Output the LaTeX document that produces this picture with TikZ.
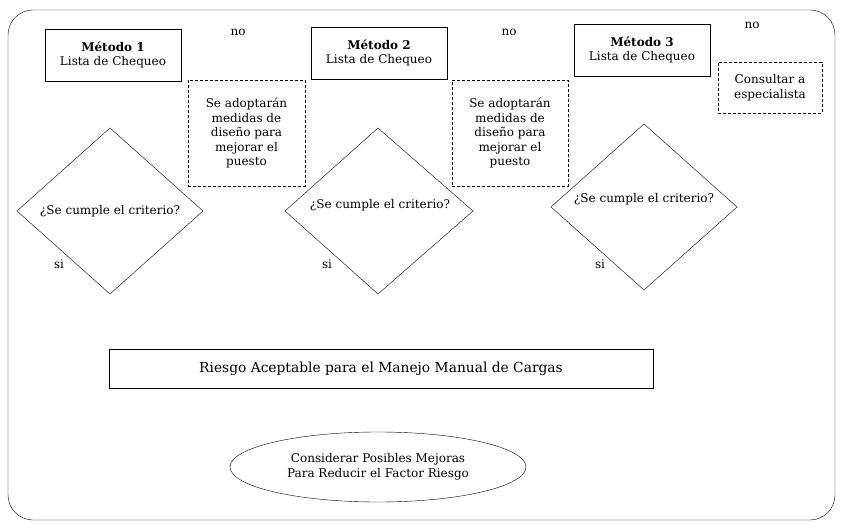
\documentclass[tikz,border=0pt]{standalone}
\usepackage{fontspec}
\setmainfont{DejaVu Serif}
\usetikzlibrary{shapes.geometric}
\begin{document}
\begin{tikzpicture}[x=1pt,y=-1pt,
  every node/.style={font=\fontsize{12}{14.5}\selectfont},
  metbox/.style={draw,rectangle,align=center,inner sep=0},
  dbox/.style={draw,dash pattern=on 3pt off 2pt,rectangle,align=center,inner sep=0},
  lbl/.style={inner sep=0}]
\useasboundingbox (0,0) rectangle (846,529);
\draw[rounded corners=25] (8,10) rectangle (835,520);
\node[metbox,minimum width=136,minimum height=52] (m1) at (113,55) {\textbf{Método 1}\\Lista de Chequeo};
\node[metbox,minimum width=136,minimum height=52] (m2) at (379,53) {\textbf{Método 2}\\Lista de Chequeo};
\node[metbox,minimum width=136,minimum height=52] (m3) at (642,50) {\textbf{Método 3}\\Lista de Chequeo};
\node[lbl] (n1) at (238,32) {no};
\node[lbl] (n2) at (509,32) {no};
\node[lbl] (n3) at (752,25) {no};
\node[dbox,minimum width=117,minimum height=106] (d1) at (246.5,133) {Se adoptarán\\medidas de\\diseño para\\mejorar el\\puesto};
\node[dbox,minimum width=116,minimum height=106] (d2) at (510,133) {Se adoptarán\\medidas de\\diseño para\\mejorar el\\puesto};
\node[dbox,minimum width=104,minimum height=51] (d3) at (770,87.5) {Consultar a\\especialista};
\draw (110,128) -- (203,211) -- (110,294) -- (17,211) -- cycle;
\node[lbl] (q1) at (110,211) {¿Se cumple el criterio?};
\draw (378,128) -- (473,211) -- (378,294) -- (285,211) -- cycle;
\node[lbl] (q2) at (380,205) {¿Se cumple el criterio?};
\draw (644,124) -- (737,207) -- (644,290) -- (551,207) -- cycle;
\node[lbl] (q3) at (644,199) {¿Se cumple el criterio?};
\node[lbl] (s1) at (59,264) {si};
\node[lbl] (s2) at (327,264) {si};
\node[lbl] (s3) at (600,264) {si};
\node[metbox,minimum width=544,minimum height=39,font=\fontsize{13.8}{16}\selectfont] (r) at (381,368.5) {Riesgo Aceptable para el Manejo Manual de Cargas};
\node[draw,ellipse,minimum width=296,minimum height=70,inner sep=0,align=center] (e) at (378,467) {Considerar Posibles Mejoras\\Para Reducir el Factor Riesgo};
\end{tikzpicture}
\end{document}
